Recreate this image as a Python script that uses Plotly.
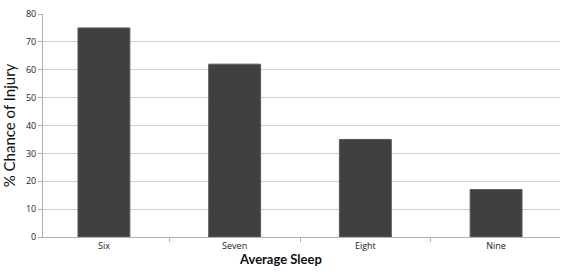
import plotly.graph_objects as go

categories = ["Six", "Seven", "Eight", "Nine"]
injury_pct = [75, 62, 35, 17]
y_ticks = [0, 10, 20, 30, 40, 50, 60, 70, 80]

fig = go.Figure(go.Bar(
    x=categories, y=injury_pct,
    marker=dict(color="#404040", line=dict(color="#5a5a5a", width=1)),
    width=0.397,
))
fig.update_layout(
    width=567, height=272,
    margin=dict(l=42, r=7, t=8, b=35),
    plot_bgcolor="white", paper_bgcolor="white",
    showlegend=False,
    font=dict(family="Open Sans, sans-serif", color="#333"),
    annotations=[dict(
        text="<b>Average Sleep</b>", xref="paper", yref="paper",
        x=0.46, y=-0.1, xanchor="center", yanchor="middle", showarrow=False,
        font=dict(family="Lato, sans-serif", size=13, color="#111"),
    )],
)
fig.update_xaxes(
    range=[-0.466, 3.489],
    showline=True, linecolor="#b0b0b0", linewidth=1,
    ticks="outside", tickcolor="#b0b0b0", ticklen=4,
    tickson="boundaries",
    tickfont=dict(size=9, color="#222"),
)
fig.update_yaxes(
    range=[0, 80], tickvals=y_ticks,
    showline=True, linecolor="#b0b0b0", linewidth=1,
    ticks="outside", tickcolor="#b0b0b0", ticklen=4,
    gridcolor="#d0d0d0", gridwidth=1, zeroline=False,
    tickfont=dict(size=9, color="#222"),
    title=dict(text="% Chance of Injury", font=dict(family="Lato, sans-serif", size=15, color="#111"), standoff=8),
)
fig.write_html("out.html")
